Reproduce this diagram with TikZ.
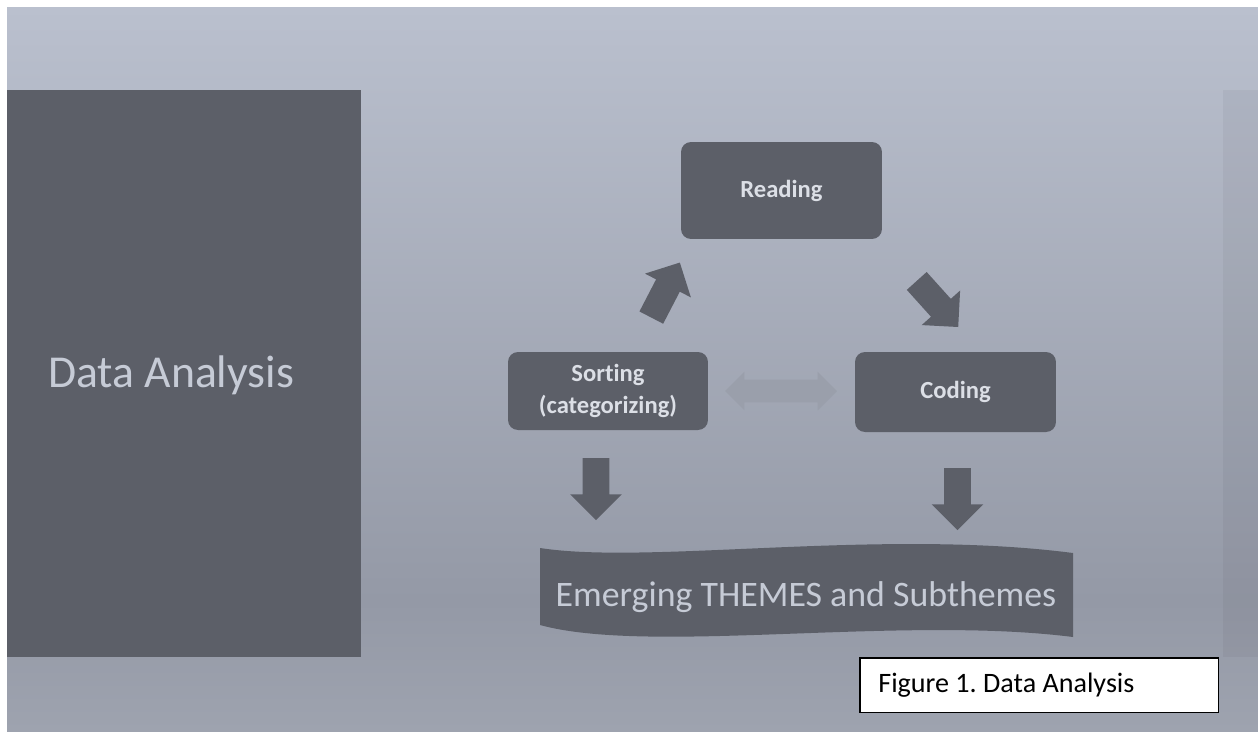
\documentclass[tikz,border=0pt]{standalone}
\usepackage{fontspec}
\setmainfont{Carlito}[Ligatures=NoCommon]
\usetikzlibrary{shapes.arrows}

\definecolor{bgtop}{HTML}{BAC0CE}
\definecolor{bgmid}{HTML}{9499A6}
\definecolor{bgbot}{HTML}{9EA3AF}
\definecolor{panel}{HTML}{5C5F68}
\definecolor{paneltext}{HTML}{C6CBD6}
\definecolor{boxtext}{HTML}{DCDFE6}
\definecolor{softarrow}{HTML}{9A9FAB}

\pgfdeclareverticalshading{slidebg}{100bp}{color(0bp)=(bgbot); color(25bp)=(bgbot);
  color(34bp)=(bgmid); color(75bp)=(bgtop); color(100bp)=(bgtop)}

\begin{document}
\frenchspacing
\begin{tikzpicture}[
    x=0.02cm, y=-0.02cm,
    stage/.style={
        fill=panel,
        rounded corners=0.2cm,
        align=center,
        inner sep=0pt,
        text=boxtext,
        font=\fontsize{14}{18}\selectfont\bfseries
    },
    blockarrow/.style={
        single arrow,
        fill=panel,
        inner xsep=0pt,
        inner ysep=0.26cm,
        minimum height=1.24cm,
        single arrow head extend=0.25cm
    },
    caption/.style={
        draw=black,
        fill=white,
        line width=0.85pt,
        minimum width=7.18cm,
        minimum height=1.1cm
    }
]

% slide background
\fill[white] (0,0) rectangle (1258,731);
\shade[shading=slidebg] (7,7) rectangle (1258,731);
\fill[black, opacity=0.04] (1223,90) rectangle (1258,657);
\fill[panel] (7,90) rectangle (361,657);
\node[text=paneltext, font=\fontsize{26}{30}\selectfont, anchor=west] (title) at (42,375) {Data Analysis};

% cycle
\node[stage, minimum width=4.02cm, minimum height=1.94cm] (reading) at (781.5,190.5) {Reading};
\node[stage, minimum width=4cm, minimum height=1.56cm] (sorting) at (608,391) {Sorting\\(categorizing)};
\node[stage, minimum width=4.02cm, minimum height=1.6cm] (coding) at (955.5,392) {Coding};

\node[blockarrow, rotate=62.6] (toreading) at (662.5,296) {};
\node[blockarrow, rotate=-48] (tocoding) at (933,299) {};
\node[double arrow, fill=softarrow, inner xsep=0pt, inner ysep=0.22cm,
      minimum height=2.24cm, double arrow head extend=0.16cm] (link) at (781,391) {};
\node[blockarrow, rotate=-90] (sortdown) at (596,482.5) {};
\node[blockarrow, rotate=-90] (codedown) at (957.5,492.5) {};

% wave banner
\fill[panel] (540,548) .. controls (650,565) and (880,528) .. (1073,553)
  -- (1073,637) .. controls (900,615) and (650,655) .. (540,625) -- cycle;
\node[text=paneltext, font=\fontsize{20.4}{24}\selectfont] (themes) at (806,597) {Emerging THEMES and Subthemes};

% caption
\node[caption, anchor=north west] (figcap) at (859,657) {};
\node[anchor=west, inner sep=0pt, font=\fontsize{16}{19}\selectfont] (figtext) at ([xshift=0.38cm]figcap.west) {Figure 1. Data Analysis};

\end{tikzpicture}
\end{document}
